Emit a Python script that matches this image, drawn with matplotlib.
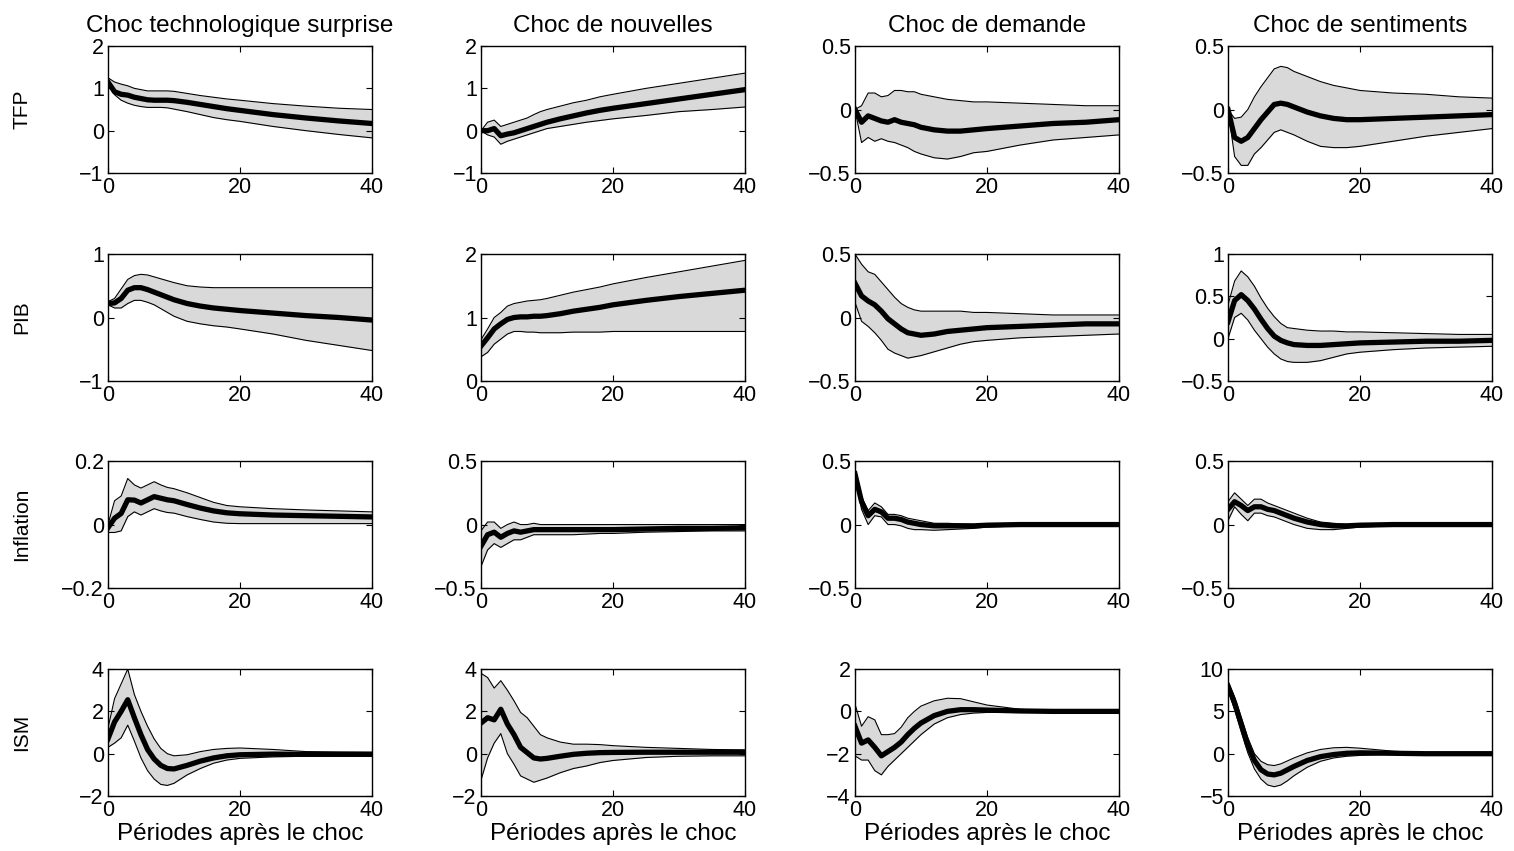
import numpy as np
import matplotlib
matplotlib.use("Agg")
import matplotlib.pyplot as plt

plt.rcParams['font.family'] = ['Liberation Sans', 'DejaVu Sans']

# horizon (periods after the shock) at which the responses were read
periods = [0, 1, 2, 3, 4, 5, 6, 7, 8, 9, 10, 12, 14, 16, 18, 20, 25, 30, 35, 40]

shocks = ['Choc technologique surprise', 'Choc de nouvelles', 'Choc de demande', 'Choc de sentiments']
variables = ['TFP', 'PIB', 'Inflation', 'ISM']

# ---- TFP ----
tfp_surp_med = [1.15, 0.92, 0.86, 0.84, 0.79, 0.76, 0.73, 0.72, 0.72, 0.72, 0.71, 0.67, 0.62, 0.57, 0.52, 0.48, 0.38, 0.30, 0.23, 0.17]
tfp_surp_lo = [1.10, 0.85, 0.72, 0.65, 0.60, 0.57, 0.55, 0.55, 0.55, 0.54, 0.51, 0.45, 0.38, 0.31, 0.26, 0.22, 0.10, 0.00, -0.09, -0.17]
tfp_surp_hi = [1.25, 1.15, 1.10, 1.06, 1.00, 0.97, 0.94, 0.94, 0.94, 0.94, 0.93, 0.88, 0.83, 0.79, 0.75, 0.72, 0.64, 0.58, 0.53, 0.50]

tfp_news_med = [0.00, 0.00, 0.05, -0.12, -0.08, -0.05, 0.00, 0.05, 0.10, 0.15, 0.20, 0.28, 0.35, 0.42, 0.48, 0.53, 0.64, 0.75, 0.86, 0.97]
tfp_news_lo = [0.00, -0.10, -0.15, -0.32, -0.25, -0.20, -0.15, -0.10, -0.05, 0.00, 0.05, 0.10, 0.15, 0.20, 0.24, 0.28, 0.36, 0.45, 0.50, 0.56]
tfp_news_hi = [0.00, 0.20, 0.25, 0.10, 0.15, 0.20, 0.25, 0.30, 0.38, 0.45, 0.50, 0.58, 0.66, 0.72, 0.80, 0.86, 1.00, 1.12, 1.24, 1.36]

tfp_dem_med = [0.00, -0.10, -0.05, -0.07, -0.09, -0.10, -0.08, -0.10, -0.11, -0.12, -0.14, -0.16, -0.17, -0.17, -0.16, -0.15, -0.13, -0.11, -0.10, -0.08]
tfp_dem_lo = [0.00, -0.26, -0.22, -0.25, -0.23, -0.25, -0.26, -0.28, -0.30, -0.33, -0.35, -0.38, -0.39, -0.37, -0.34, -0.33, -0.28, -0.24, -0.22, -0.20]
tfp_dem_hi = [0.00, 0.03, 0.13, 0.13, 0.10, 0.11, 0.15, 0.15, 0.14, 0.14, 0.12, 0.10, 0.08, 0.07, 0.06, 0.06, 0.05, 0.04, 0.03, 0.03]

tfp_sent_med = [0.00, -0.22, -0.25, -0.22, -0.15, -0.08, -0.02, 0.04, 0.05, 0.04, 0.02, -0.02, -0.05, -0.07, -0.08, -0.08, -0.07, -0.06, -0.05, -0.04]
tfp_sent_lo = [0.00, -0.37, -0.44, -0.44, -0.35, -0.30, -0.24, -0.18, -0.16, -0.18, -0.20, -0.25, -0.29, -0.30, -0.30, -0.29, -0.25, -0.21, -0.18, -0.15]
tfp_sent_hi = [0.00, -0.07, -0.06, 0.00, 0.10, 0.18, 0.25, 0.32, 0.34, 0.33, 0.30, 0.26, 0.22, 0.19, 0.17, 0.15, 0.13, 0.12, 0.10, 0.09]

# ---- PIB ----
pib_surp_med = [0.22, 0.23, 0.30, 0.43, 0.47, 0.47, 0.44, 0.40, 0.36, 0.32, 0.28, 0.22, 0.18, 0.15, 0.13, 0.11, 0.07, 0.03, 0.00, -0.04]
pib_surp_lo = [0.20, 0.15, 0.15, 0.22, 0.27, 0.27, 0.24, 0.20, 0.14, 0.08, 0.02, -0.06, -0.10, -0.13, -0.15, -0.18, -0.26, -0.36, -0.44, -0.52]
pib_surp_hi = [0.25, 0.30, 0.45, 0.60, 0.66, 0.68, 0.67, 0.64, 0.61, 0.58, 0.55, 0.50, 0.48, 0.47, 0.47, 0.47, 0.47, 0.47, 0.47, 0.47]

pib_news_med = [0.55, 0.68, 0.82, 0.90, 0.97, 1.00, 1.01, 1.01, 1.02, 1.02, 1.03, 1.06, 1.10, 1.13, 1.16, 1.20, 1.27, 1.33, 1.38, 1.43]
pib_news_lo = [0.38, 0.45, 0.58, 0.66, 0.74, 0.78, 0.78, 0.77, 0.77, 0.76, 0.76, 0.76, 0.77, 0.77, 0.77, 0.78, 0.78, 0.78, 0.78, 0.78]
pib_news_hi = [0.65, 0.82, 1.00, 1.08, 1.18, 1.22, 1.24, 1.26, 1.27, 1.28, 1.30, 1.35, 1.40, 1.44, 1.48, 1.53, 1.63, 1.72, 1.81, 1.90]

pib_dem_med = [0.27, 0.17, 0.13, 0.10, 0.05, -0.01, -0.05, -0.09, -0.12, -0.13, -0.14, -0.13, -0.11, -0.10, -0.09, -0.08, -0.07, -0.06, -0.05, -0.05]
pib_dem_lo = [0.12, -0.03, -0.07, -0.12, -0.18, -0.25, -0.28, -0.30, -0.32, -0.31, -0.30, -0.27, -0.24, -0.21, -0.19, -0.18, -0.16, -0.15, -0.14, -0.13]
pib_dem_hi = [0.50, 0.42, 0.36, 0.34, 0.28, 0.22, 0.16, 0.11, 0.08, 0.06, 0.05, 0.05, 0.05, 0.05, 0.04, 0.04, 0.03, 0.02, 0.02, 0.02]

pib_sent_med = [0.20, 0.45, 0.52, 0.45, 0.35, 0.23, 0.12, 0.03, -0.02, -0.05, -0.07, -0.08, -0.08, -0.07, -0.06, -0.05, -0.04, -0.03, -0.03, -0.02]
pib_sent_lo = [0.00, 0.25, 0.30, 0.22, 0.10, 0.00, -0.10, -0.18, -0.24, -0.27, -0.28, -0.28, -0.26, -0.22, -0.18, -0.16, -0.13, -0.11, -0.10, -0.09]
pib_sent_hi = [0.40, 0.68, 0.80, 0.73, 0.62, 0.48, 0.36, 0.26, 0.18, 0.13, 0.12, 0.10, 0.09, 0.09, 0.08, 0.08, 0.07, 0.06, 0.05, 0.05]

# ---- Inflation ----
inf_surp_med = [-0.010, 0.020, 0.035, 0.078, 0.077, 0.068, 0.078, 0.088, 0.083, 0.078, 0.075, 0.063, 0.052, 0.043, 0.037, 0.034, 0.030, 0.028, 0.026, 0.024]
inf_surp_lo = [-0.025, -0.025, -0.020, 0.025, 0.040, 0.030, 0.040, 0.050, 0.043, 0.038, 0.036, 0.025, 0.016, 0.008, 0.004, 0.003, 0.003, 0.003, 0.003, 0.003]
inf_surp_hi = [0.000, 0.075, 0.090, 0.145, 0.125, 0.115, 0.125, 0.135, 0.125, 0.117, 0.113, 0.100, 0.085, 0.070, 0.060, 0.056, 0.050, 0.046, 0.043, 0.040]

inf_news_med = [-0.17, -0.08, -0.06, -0.10, -0.07, -0.05, -0.06, -0.05, -0.04, -0.04, -0.04, -0.04, -0.04, -0.04, -0.04, -0.04, -0.035, -0.03, -0.03, -0.025]
inf_news_lo = [-0.33, -0.20, -0.15, -0.18, -0.15, -0.12, -0.12, -0.10, -0.08, -0.08, -0.08, -0.08, -0.08, -0.075, -0.07, -0.07, -0.06, -0.055, -0.05, -0.05]
inf_news_hi = [-0.05, 0.02, 0.02, -0.03, 0.00, 0.02, 0.00, 0.00, 0.01, 0.00, 0.00, 0.00, 0.00, 0.00, 0.00, 0.00, 0.00, 0.00, 0.00, 0.00]

inf_dem_med = [0.40, 0.18, 0.07, 0.12, 0.10, 0.05, 0.05, 0.04, 0.02, 0.01, 0.00, -0.01, -0.01, -0.01, -0.01, -0.005, 0.00, 0.00, 0.00, 0.00]
inf_dem_lo = [0.38, 0.12, 0.00, 0.07, 0.06, 0.00, 0.00, -0.01, -0.03, -0.04, -0.04, -0.045, -0.04, -0.035, -0.03, -0.02, -0.01, -0.005, 0.00, 0.00]
inf_dem_hi = [0.42, 0.22, 0.11, 0.17, 0.14, 0.08, 0.08, 0.07, 0.05, 0.04, 0.03, 0.01, 0.01, 0.005, 0.00, 0.00, 0.00, 0.00, 0.00, 0.00]

inf_sent_med = [0.12, 0.18, 0.15, 0.11, 0.14, 0.14, 0.12, 0.11, 0.09, 0.07, 0.05, 0.02, 0.00, -0.01, -0.01, -0.005, 0.00, 0.00, 0.00, 0.00]
inf_sent_lo = [0.03, 0.14, 0.08, 0.03, 0.09, 0.09, 0.07, 0.06, 0.04, 0.02, 0.00, -0.03, -0.04, -0.04, -0.03, -0.02, -0.01, 0.00, 0.00, 0.00]
inf_sent_hi = [0.18, 0.25, 0.20, 0.15, 0.20, 0.20, 0.17, 0.15, 0.13, 0.11, 0.09, 0.05, 0.02, 0.01, 0.00, 0.00, 0.00, 0.00, 0.00, 0.00]

# ---- ISM ----
ism_surp_med = [0.70, 1.50, 2.00, 2.55, 1.70, 0.90, 0.20, -0.25, -0.55, -0.70, -0.72, -0.55, -0.35, -0.20, -0.10, -0.05, -0.02, -0.03, -0.03, -0.03]
ism_surp_lo = [0.30, 0.50, 0.75, 1.35, 0.60, -0.20, -0.80, -1.20, -1.45, -1.50, -1.40, -1.00, -0.70, -0.45, -0.30, -0.22, -0.15, -0.12, -0.12, -0.12]
ism_surp_hi = [1.20, 2.60, 3.30, 4.00, 2.80, 2.00, 1.30, 0.70, 0.25, 0.00, -0.10, -0.05, 0.10, 0.20, 0.25, 0.27, 0.20, 0.10, 0.08, 0.07]

ism_news_med = [1.45, 1.70, 1.60, 2.10, 1.40, 0.90, 0.30, 0.05, -0.20, -0.25, -0.22, -0.12, -0.03, 0.02, 0.05, 0.06, 0.07, 0.07, 0.07, 0.07]
ism_news_lo = [-1.25, -0.20, 0.50, 0.95, 0.00, -0.50, -1.05, -1.20, -1.35, -1.25, -1.15, -0.90, -0.70, -0.58, -0.42, -0.32, -0.18, -0.12, -0.10, -0.10]
ism_news_hi = [3.80, 3.60, 3.10, 3.45, 3.00, 2.50, 1.95, 1.70, 1.30, 0.90, 0.75, 0.55, 0.45, 0.45, 0.43, 0.38, 0.30, 0.25, 0.20, 0.18]

ism_dem_med = [-0.70, -1.50, -1.35, -1.70, -2.10, -1.90, -1.70, -1.45, -1.10, -0.80, -0.55, -0.20, 0.00, 0.08, 0.08, 0.06, 0.02, 0.00, 0.00, 0.00]
ism_dem_lo = [-2.10, -2.30, -2.30, -2.80, -3.00, -2.60, -2.30, -2.00, -1.70, -1.40, -1.10, -0.60, -0.30, -0.15, -0.08, -0.05, -0.05, -0.02, 0.00, 0.00]
ism_dem_hi = [0.35, -0.70, -0.25, -0.40, -1.10, -1.10, -1.05, -0.75, -0.30, 0.00, 0.25, 0.50, 0.62, 0.60, 0.45, 0.30, 0.10, 0.03, 0.01, 0.00]

ism_sent_med = [8.0, 6.0, 3.5, 1.0, -0.8, -1.9, -2.4, -2.5, -2.3, -1.9, -1.5, -0.8, -0.35, -0.10, 0.05, 0.10, 0.05, 0.00, 0.00, 0.00]
ism_sent_lo = [7.5, 5.2, 2.6, 0.1, -1.8, -3.0, -3.7, -3.9, -3.7, -3.2, -2.6, -1.6, -0.9, -0.5, -0.3, -0.2, -0.05, -0.03, -0.02, -0.02]
ism_sent_hi = [8.5, 6.7, 4.3, 1.9, 0.0, -0.9, -1.3, -1.4, -1.2, -0.85, -0.5, 0.1, 0.5, 0.7, 0.75, 0.65, 0.3, 0.1, 0.05, 0.03]

# y-axis limits and ticks of each row (one entry per column)
ylims = [
    [(-1, 2), (-1, 2), (-0.5, 0.5), (-0.5, 0.5)],
    [(-1, 1), (0, 2), (-0.5, 0.5), (-0.5, 1)],
    [(-0.2, 0.2), (-0.5, 0.5), (-0.5, 0.5), (-0.5, 0.5)],
    [(-2, 4), (-2, 4), (-4, 2), (-5, 10)],
]
yticks = [
    [[-1, 0, 1, 2], [-1, 0, 1, 2], [-0.5, 0, 0.5], [-0.5, 0, 0.5]],
    [[-1, 0, 1], [0, 1, 2], [-0.5, 0, 0.5], [-0.5, 0, 0.5, 1]],
    [[-0.2, 0, 0.2], [-0.5, 0, 0.5], [-0.5, 0, 0.5], [-0.5, 0, 0.5]],
    [[-2, 0, 2, 4], [-2, 0, 2, 4], [-4, -2, 0, 2], [-5, 0, 5, 10]],
]

panels = [
    [(tfp_surp_lo, tfp_surp_med, tfp_surp_hi), (tfp_news_lo, tfp_news_med, tfp_news_hi),
     (tfp_dem_lo, tfp_dem_med, tfp_dem_hi), (tfp_sent_lo, tfp_sent_med, tfp_sent_hi)],
    [(pib_surp_lo, pib_surp_med, pib_surp_hi), (pib_news_lo, pib_news_med, pib_news_hi),
     (pib_dem_lo, pib_dem_med, pib_dem_hi), (pib_sent_lo, pib_sent_med, pib_sent_hi)],
    [(inf_surp_lo, inf_surp_med, inf_surp_hi), (inf_news_lo, inf_news_med, inf_news_hi),
     (inf_dem_lo, inf_dem_med, inf_dem_hi), (inf_sent_lo, inf_sent_med, inf_sent_hi)],
    [(ism_surp_lo, ism_surp_med, ism_surp_hi), (ism_news_lo, ism_news_med, ism_news_hi),
     (ism_dem_lo, ism_dem_med, ism_dem_hi), (ism_sent_lo, ism_sent_med, ism_sent_hi)],
]


def fmt(v):
    return ('%g' % v).replace('-', '\u2212')


fig = plt.figure(figsize=(15.14, 8.51), dpi=100)

lefts = [0.0713, 0.3177, 0.5647, 0.8111]
bottoms = [0.7967, 0.5523, 0.3090, 0.0646]
w, h = 0.1744, 0.1492

x = np.array(periods)
for i in range(4):
    for j in range(4):
        ax = fig.add_axes([lefts[j], bottoms[i], w, h])
        lo, med, hi = (np.array(s) for s in panels[i][j])
        ax.fill_between(x, lo, hi, color='#d9d9d9', linewidth=0)
        ax.plot(x, lo, color='black', linewidth=0.8)
        ax.plot(x, hi, color='black', linewidth=0.8)
        ax.plot(x, med, color='black', linewidth=3.8)
        ax.set_xlim(0, 40)
        ax.set_ylim(*ylims[i][j])
        ax.set_xticks([0, 20, 40])
        ax.set_xticklabels(['0', '20', '40'])
        ax.set_yticks(yticks[i][j])
        ax.set_yticklabels([fmt(v) for v in yticks[i][j]])
        ax.tick_params(direction='in', top=True, right=True, length=4, width=0.8,
                       labelsize=15.5, pad=3)
        for sp in ax.spines.values():
            sp.set_linewidth(1.0)
        if i == 0:
            ax.set_title(shocks[j], fontsize=17.5, pad=10)
        if i == 3:
            ax.set_xlabel('Périodes après le choc', fontsize=17.5, labelpad=1)
        if j == 0:
            ax.set_ylabel(variables[i], fontsize=15)
            ax.yaxis.set_label_coords(-0.29, 0.5)

fig.savefig('out.png', dpi=100)
